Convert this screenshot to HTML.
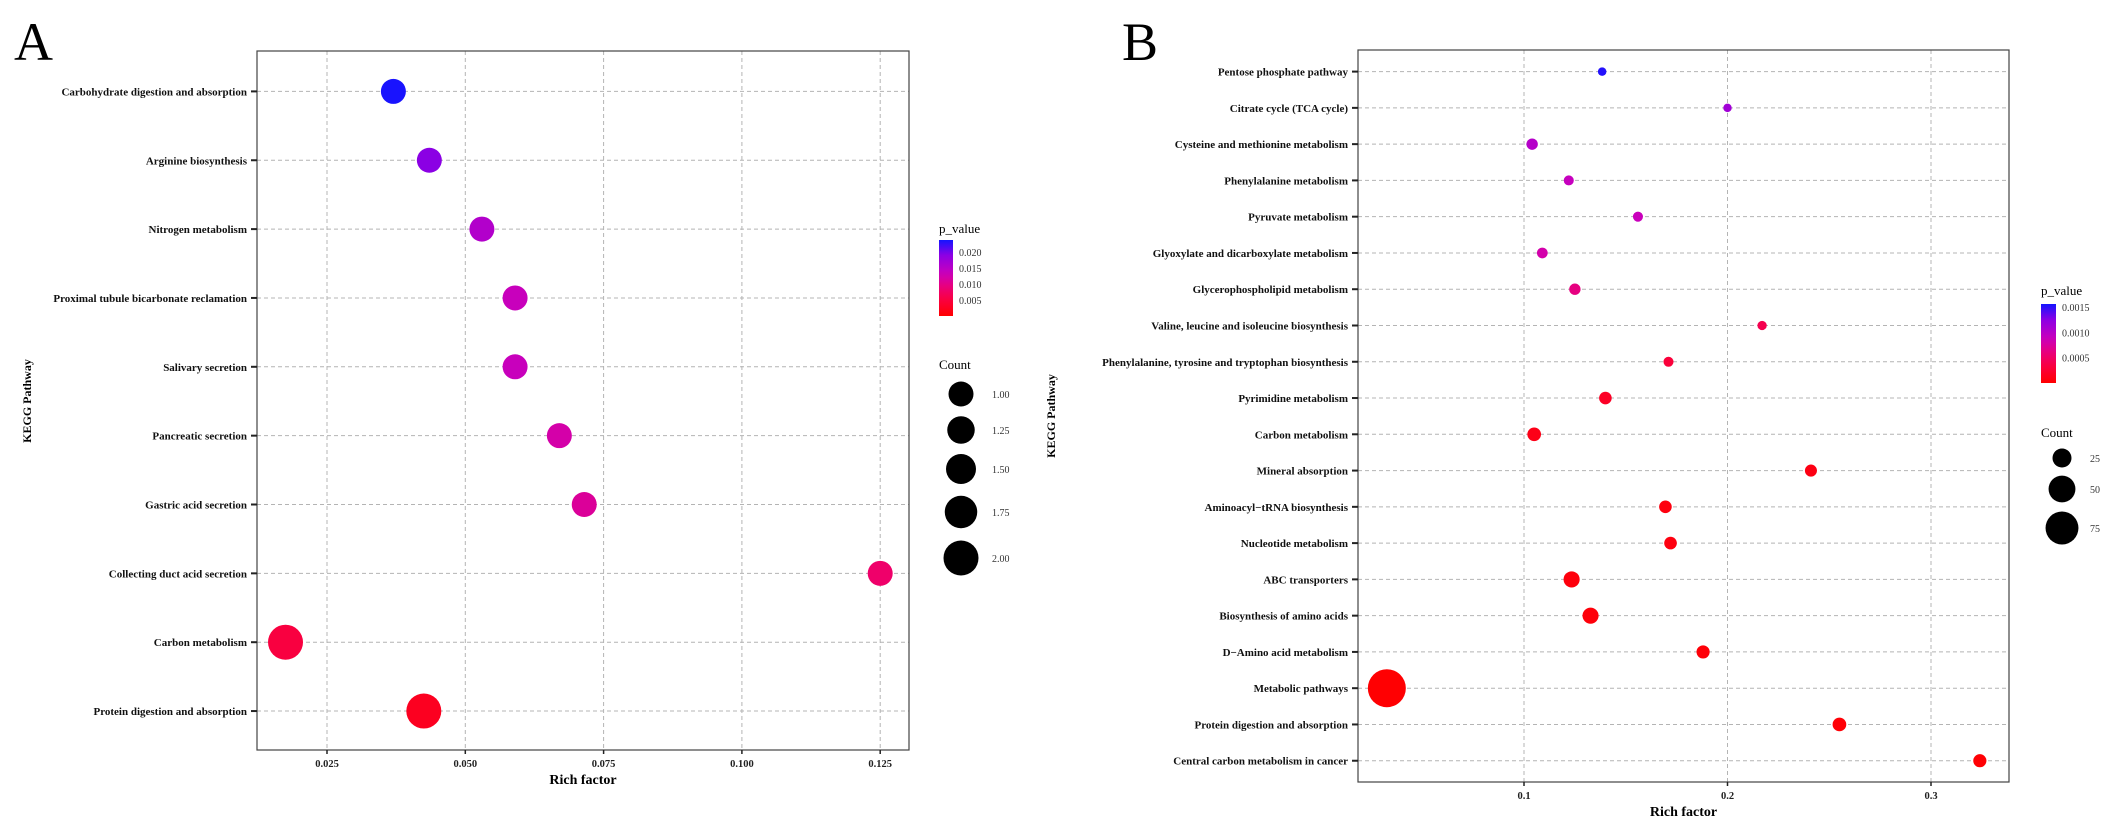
<!DOCTYPE html>
<html><head><meta charset="utf-8"><style>
html,body{margin:0;padding:0;background:#fff;}
svg{display:block;font-family:"Liberation Serif",serif;}
</style></head><body>
<svg id="fig" width="2125" height="834" viewBox="0 0 2125 834">
<text x="14" y="60" font-size="54">A</text>
<text x="1122" y="60" font-size="54">B</text>
</svg>
<script>
// ---------- Panel A data ----------
const catsA = ["Carbohydrate digestion and absorption","Arginine biosynthesis","Nitrogen metabolism","Proximal tubule bicarbonate reclamation","Salivary secretion","Pancreatic secretion","Gastric acid secretion","Collecting duct acid secretion","Carbon metabolism","Protein digestion and absorption"];
const richA = [0.037,0.0435,0.053,0.059,0.059,0.067,0.0715,0.125,0.0175,0.0425];
const countA = [1,1,1,1,1,1,1,1,2,2];
const pA = [0.0235,0.019,0.0155,0.0135,0.0135,0.012,0.011,0.008,0.005,0.0025];
const xTicksA = [0.025,0.05,0.075,0.1,0.125];
const xTickLabelsA = ["0.025","0.050","0.075","0.100","0.125"];
const pTicksA = [0.020,0.015,0.010,0.005];
const pTickLabelsA = ["0.020","0.015","0.010","0.005"];
const countLegA = [1.00,1.25,1.50,1.75,2.00];
const countLegLabelsA = ["1.00","1.25","1.50","1.75","2.00"];

// ---------- Panel B data ----------
const catsB = ["Pentose phosphate pathway","Citrate cycle (TCA cycle)","Cysteine and methionine metabolism","Phenylalanine metabolism","Pyruvate metabolism","Glyoxylate and dicarboxylate metabolism","Glycerophospholipid metabolism","Valine, leucine and isoleucine biosynthesis","Phenylalanine, tyrosine and tryptophan biosynthesis","Pyrimidine metabolism","Carbon metabolism","Mineral absorption","Aminoacyl\u2212tRNA biosynthesis","Nucleotide metabolism","ABC transporters","Biosynthesis of amino acids","D\u2212Amino acid metabolism","Metabolic pathways","Protein digestion and absorption","Central carbon metabolism in cancer"];
const richB = [0.1384,0.200,0.104,0.122,0.156,0.109,0.125,0.217,0.171,0.140,0.105,0.241,0.1695,0.172,0.1234,0.1327,0.188,0.0326,0.255,0.324];
const countB = [5,5,9,7,7,8,9,6,7,11,13,10,11,11,18,18,12,100,13,12];
const pB = [0.00152,0.00112,0.00100,0.00090,0.00088,0.00080,0.00062,0.00040,0.00030,0.00020,0.00012,0.00010,0.00008,0.00008,0.00006,0.00005,0.00004,0.00001,0.00003,0.00002];
const xTicksB = [0.1,0.2,0.3];
const xTickLabelsB = ["0.1","0.2","0.3"];
const pTicksB = [0.0015,0.0010,0.0005];
const pTickLabelsB = ["0.0015","0.0010","0.0005"];
const countLegB = [25,50,75];
const countLegLabelsB = ["25","50","75"];

const NS = "http://www.w3.org/2000/svg";
const svg = document.getElementById("fig");
function mk(tag, attrs, parent){
  const e = document.createElementNS(NS, tag);
  for (const k in attrs) e.setAttribute(k, attrs[k]);
  (parent||svg).appendChild(e);
  return e;
}
// colour: red (low) -> magenta -> blue (high)
const stops = [[0,[255,0,0]],[0.2,[250,0,60]],[0.35,[238,0,110]],[0.55,[205,0,185]],[0.8,[140,0,228]],[1,[20,20,255]]];
function col(t){
  t = Math.max(0, Math.min(1, t));
  for (let i=1;i<stops.length;i++){
    if (t <= stops[i][0]){
      const a=stops[i-1], b=stops[i], f=(t-a[0])/(b[0]-a[0]);
      const c=a[1].map((v,j)=>Math.round(v+(b[1][j]-v)*f));
      return "rgb("+c.join(",")+")";
    }
  }
  return "rgb(20,20,255)";
}

function panel(cfg){
  const g = mk("g", {});
  
  
  const xs = v => cfg.x0 + (v - cfg.v0) * cfg.kx;
  const ys = i => cfg.row0 + i * cfg.rowStep;
  cfg.xTicks.forEach((v)=>{
    const l = mk("line",{x1:xs(v),x2:xs(v),y1:cfg.top,y2:cfg.bottom,stroke:"#b4b4b4","stroke-width":1,"stroke-dasharray":"4,3"},g);
    
    
  });
  cfg.cats.forEach((c,i)=>{
    const l = mk("line",{x1:cfg.left,x2:cfg.right,y1:ys(i),y2:ys(i),stroke:"#b4b4b4","stroke-width":1,"stroke-dasharray":"4,3"},g);
    
    
  });
  const b = mk("rect",{x:cfg.left,y:cfg.top,width:cfg.right-cfg.left,height:cfg.bottom-cfg.top,fill:"none",stroke:"#444","stroke-width":1.2},g);
  
  
  cfg.cats.forEach((c,i)=>{
    const t = mk("text",{x:cfg.left-10,y:ys(i)+4,"font-size":11,"font-weight":"bold","text-anchor":"end",fill:"#111"},g);
    t.textContent = c;
    
    
    const tk = mk("line",{x1:cfg.left-6,x2:cfg.left,y1:ys(i),y2:ys(i),stroke:"#222","stroke-width":2},g);
    
    
  });
  cfg.xTicks.forEach((v,i)=>{
    const tk = mk("line",{x1:xs(v),x2:xs(v),y1:cfg.bottom,y2:cfg.bottom+4,stroke:"#222","stroke-width":1.5},g);
    
    
    const t = mk("text",{x:xs(v),y:cfg.bottom+17,"font-size":10.5,"font-weight":"bold","text-anchor":"middle",fill:"#222"},g);
    t.textContent = cfg.xTickLabels[i];
    
    
  });
  const xt = mk("text",{x:(cfg.left+cfg.right)/2,y:cfg.bottom+34,"font-size":14,"font-weight":"bold","text-anchor":"middle"},g);
  xt.textContent = "Rich factor";
  
  
  const yt = mk("text",{x:0,y:0,"font-size":12,"font-weight":"bold","text-anchor":"middle",transform:"translate("+cfg.yTitleX+","+cfg.yTitleY+") rotate(-90)"},g);
  yt.textContent = "KEGG Pathway";
  
  
  cfg.cats.forEach((c,i)=>{
    const p = mk("circle",{cx:xs(cfg.rich[i]),cy:ys(i),r:cfg.rad(cfg.count[i]),fill:col(cfg.p[i]/cfg.pMax)},g);
    
    
  });
  const lt = mk("text",{x:cfg.legX,y:cfg.pTitleY,"font-size":13},g);
  lt.textContent = "p_value";
  
  
  const gid = cfg.name+"-grad";
  const defs = mk("defs",{},g);
  const lg = mk("linearGradient",{id:gid,x1:0,y1:1,x2:0,y2:0},defs);
  for (let k=0;k<=10;k++) mk("stop",{offset:(k/10),"stop-color":col(k/10)},lg);
  const cb = mk("rect",{x:cfg.legX,y:cfg.barTop,width:cfg.barW,height:cfg.barBot-cfg.barTop,fill:"url(#"+gid+")"},g);
  
  
  const pyv = v => cfg.barBot - (v/cfg.pMax)*(cfg.barBot-cfg.barTop);
  cfg.pTicks.forEach((v,i)=>{
    const t = mk("text",{x:cfg.legX+cfg.barW+6,y:pyv(v)+4,"font-size":10,fill:"#333"},g);
    t.textContent = cfg.pTickLabels[i];
    
    
  });
  const st = mk("text",{x:cfg.legX,y:cfg.cTitleY,"font-size":13},g);
  st.textContent = "Count";
  
  
  cfg.countLeg.forEach((v,i)=>{
    const c = mk("circle",{cx:cfg.dotX,cy:cfg.dotY[i],r:cfg.rad(v),fill:"#000"},g);
    
    
    const t = mk("text",{x:cfg.labX,y:cfg.dotY[i]+4,"font-size":10,fill:"#333"},g);
    t.textContent = cfg.countLegLabels[i];
    
    
  });
}

panel({name:"panel-a",cats:catsA,rich:richA,count:countA,p:pA,xTicks:xTicksA,xTickLabels:xTickLabelsA,
  left:257,right:909,top:51,bottom:750,x0:327,v0:0.025,kx:5532,row0:91.4,rowStep:68.85,
  rad:n=>12.5+(n-1)*5,pMax:0.0237,yTitleX:31,yTitleY:401,
  legX:939,pTitleY:233,barTop:240,barBot:316,barW:14,pTicks:pTicksA,pTickLabels:pTickLabelsA,
  cTitleY:369,countLeg:countLegA,countLegLabels:countLegLabelsA,dotX:961,dotY:[394,430,469,512,558],labX:992});

panel({name:"panel-b",cats:catsB,rich:richB,count:countB,p:pB,xTicks:xTicksB,xTickLabels:xTickLabelsB,
  left:1358,right:2009,top:50,bottom:782,x0:1524,v0:0.1,kx:2035,row0:71.6,rowStep:36.27,
  rad:n=>1.9*Math.sqrt(n),pMax:0.00156,yTitleX:1055,yTitleY:416,
  legX:2041,pTitleY:295,barTop:304,barBot:383,barW:15,pTicks:pTicksB,pTickLabels:pTickLabelsB,
  cTitleY:437,countLeg:countLegB,countLegLabels:countLegLabelsB,dotX:2062,dotY:[458,489,528],labX:2090});
</script>
</body></html>
